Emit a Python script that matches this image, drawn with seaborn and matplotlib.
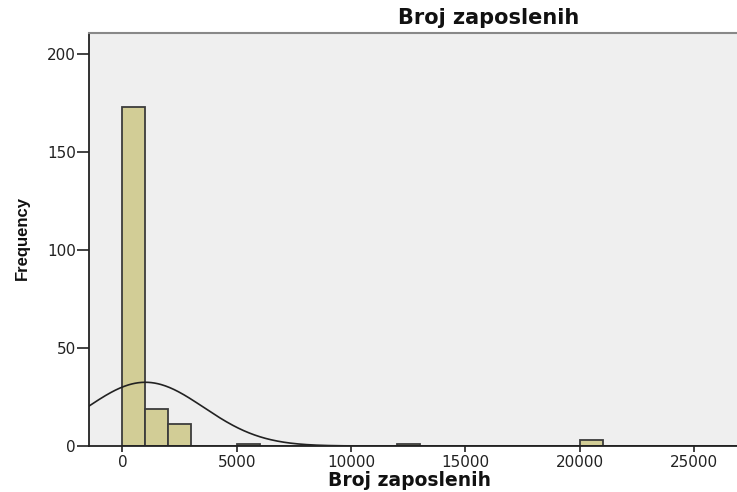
import numpy as np
import pandas as pd
import matplotlib
matplotlib.use("Agg")
import matplotlib.pyplot as plt
import seaborn as sns

# histogram bins (left edges, width 1000) and their counts
bin_left = [0, 1000, 2000, 5000, 12000, 20000]
counts = [173, 19, 11, 1, 1, 3]
bin_width = 1000

# normal curve parameters as shown on the chart
curve_mean = 1000
curve_sd = 2550

x_ticks = [0, 5000, 10000, 15000, 20000, 25000]
y_ticks = [0, 50, 100, 150, 200]

df = pd.DataFrame({"mid": np.array(bin_left) + bin_width / 2, "n": counts})
edges = [float(e) for e in np.arange(0, 27000 + bin_width, bin_width)]

sns.set_theme(style="white")
plt.rcParams["font.family"] = ["DejaVu Sans"]

fig = plt.figure(figsize=(7.37, 4.92), dpi=100)
ax = fig.add_axes([89 / 737, 1 - 446 / 492, 1 - 89 / 737, (446 - 33) / 492])
ax.set_facecolor("#efefef")

sns.histplot(data=df, x="mid", weights="n", bins=edges, ax=ax,
             color="#d2cd96", edgecolor="#3c3c3c", linewidth=1.3, alpha=1)

# fitted normal curve, scaled to counts per bin
xs = np.linspace(-1500, 27000, 600)
n_total = sum(counts)
ys = n_total * bin_width / (curve_sd * np.sqrt(2 * np.pi)) * np.exp(-0.5 * ((xs - curve_mean) / curve_sd) ** 2)
sns.lineplot(x=xs, y=ys, ax=ax, color="#222222", linewidth=1.2)

ax.set_xlim(-1465, 26880)
ax.set_ylim(0, 210.9)
ax.set_xticks(x_ticks)
ax.set_yticks(y_ticks)
ax.tick_params(axis="both", direction="out", width=1.2, color="#222222",
               labelsize=11, labelcolor="#222222", bottom=True, left=True)
ax.tick_params(axis="y", length=8.5, pad=1)
ax.tick_params(axis="x", length=4.5, pad=2)

for s in ["left", "bottom"]:
    ax.spines[s].set_color("#222222")
    ax.spines[s].set_linewidth(1.3)
ax.spines["top"].set_color("#888888")
ax.spines["top"].set_linewidth(1.5)
ax.spines["right"].set_visible(False)

ax.set_xlabel("")
ax.set_ylabel("")
fig.text(409 / 737, 1 - 486 / 492, "Broj zaposlenih", ha="center", va="baseline",
         fontsize=13.5, fontweight="bold", color="#111111")
fig.text(22 / 737, 1 - 238 / 492, "Frequency", ha="center", va="center", rotation=90,
         fontsize=12, fontweight="bold", color="#111111",
         family=["Liberation Sans Narrow", "Liberation Sans"])
fig.text(489 / 737, 1 - 18 / 492, "Broj zaposlenih", ha="center", va="center",
         fontsize=15, fontweight="bold", color="#111111")

fig.savefig("out.png", dpi=100)
